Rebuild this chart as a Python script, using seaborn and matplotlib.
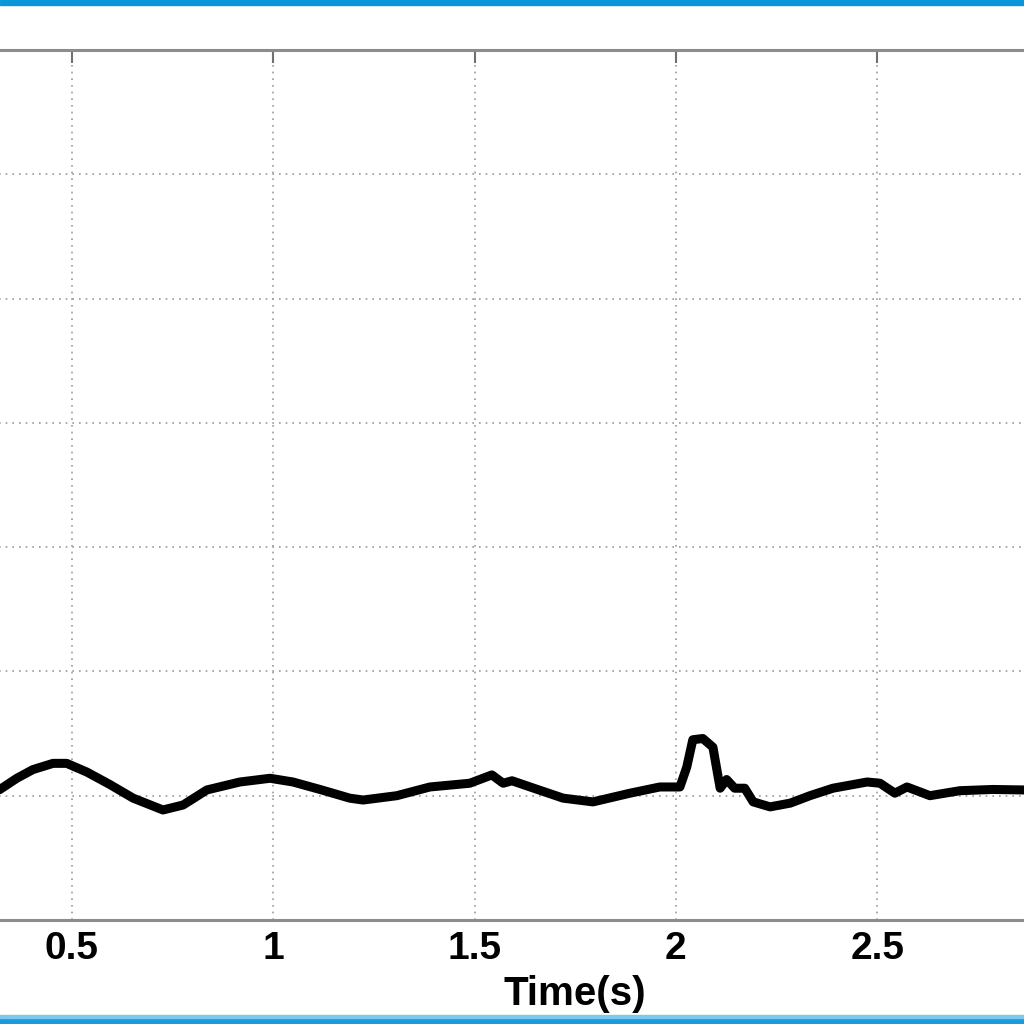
import matplotlib
matplotlib.use("Agg")
import matplotlib.pyplot as plt
import seaborn as sns
import pandas as pd
from matplotlib.patches import Rectangle

# Values (time in s, signal in grid units)
time_s = [0.30, 0.321, 0.363, 0.403, 0.453, 0.487, 0.537, 0.594, 0.652, 0.726,
          0.776, 0.835, 0.917, 0.992, 1.049, 1.116, 1.19, 1.223, 1.307, 1.389,
          1.488, 1.543, 1.571, 1.593, 1.638, 1.72, 1.794, 1.886, 1.96, 2.01,
          2.027, 2.042, 2.067, 2.092, 2.105, 2.11, 2.126, 2.146, 2.171, 2.192,
          2.234, 2.284, 2.333, 2.39, 2.475, 2.507, 2.544, 2.574, 2.631, 2.705,
          2.787, 2.865, 3.0]
signal = [1.02, 1.05, 1.14, 1.21, 1.26, 1.26, 1.19, 1.09, 0.98, 0.885,
          0.925, 1.046, 1.11, 1.14, 1.11, 1.05, 0.98, 0.965, 1.0, 1.07,
          1.10, 1.167, 1.10, 1.12, 1.07, 0.98, 0.95, 1.02, 1.07, 1.07,
          1.23, 1.45, 1.46, 1.39, 1.15, 1.06, 1.13, 1.06, 1.06, 0.95,
          0.91, 0.94, 1.0, 1.06, 1.11, 1.10, 1.02, 1.07, 1.0, 1.04,
          1.05, 1.046, 1.04]

x_ticks = [0, 0.5, 1, 1.5, 2, 2.5, 3, 3.5]
# labels at 0, 3 and 3.5 fall outside the cropped picture
x_tick_labels = ["", "0.5", "1", "1.5", "2", "2.5", "", ""]
y_ticks = [0, 1, 2, 3, 4, 5, 6, 7]

sns.set_style("white")
plt.rcParams["font.family"] = ["Liberation Sans", "DejaVu Sans"]

fig = plt.figure(figsize=(10.24, 10.24), dpi=100)
# axes extends past the left/right edges like the cropped reference
ax = fig.add_axes([-0.1263, 0.1016, 1.3761, 0.8496])

df = pd.DataFrame({"Time(s)": time_s, "signal": signal})
sns.lineplot(data=df, x="Time(s)", y="signal", color="black", linewidth=6.5, ax=ax)
for ln in ax.lines:
    ln.set_solid_joinstyle("round")
    ln.set_solid_capstyle("round")

ax.set_xlim(0, 3.5)
ax.set_ylim(0, 7)
ax.set_xticks(x_ticks)
ax.set_xticklabels(x_tick_labels, fontsize=28, fontweight="bold", color="black")
ax.set_yticks(y_ticks)
ax.set_yticklabels([])
ax.set_ylabel("")
ax.set_xlabel("Time(s)", fontsize=29, fontweight="bold", color="black", labelpad=6)

ax.grid(True, linestyle=(0, (1, 3)), color="#999999", linewidth=1.2)
ax.tick_params(axis="both", direction="in", length=9, width=1.5, color="#707070",
               top=True, right=True, pad=8)
for s in ax.spines.values():
    s.set_color("#8c8c8c")
    s.set_linewidth(2.2)

# blue frame strips at top and bottom
fig.patches.append(Rectangle((0, 0.995), 1, 0.005, transform=fig.transFigure,
                             color="#0a96d8", zorder=10))
fig.patches.append(Rectangle((0, 0.0), 1, 0.0075, transform=fig.transFigure,
                             color="#1a9ad8", zorder=10))
fig.patches.append(Rectangle((0, 0.0055), 1, 0.003, transform=fig.transFigure,
                             color="#7cc8ee", zorder=11))

fig.savefig("out.png", dpi=100)
